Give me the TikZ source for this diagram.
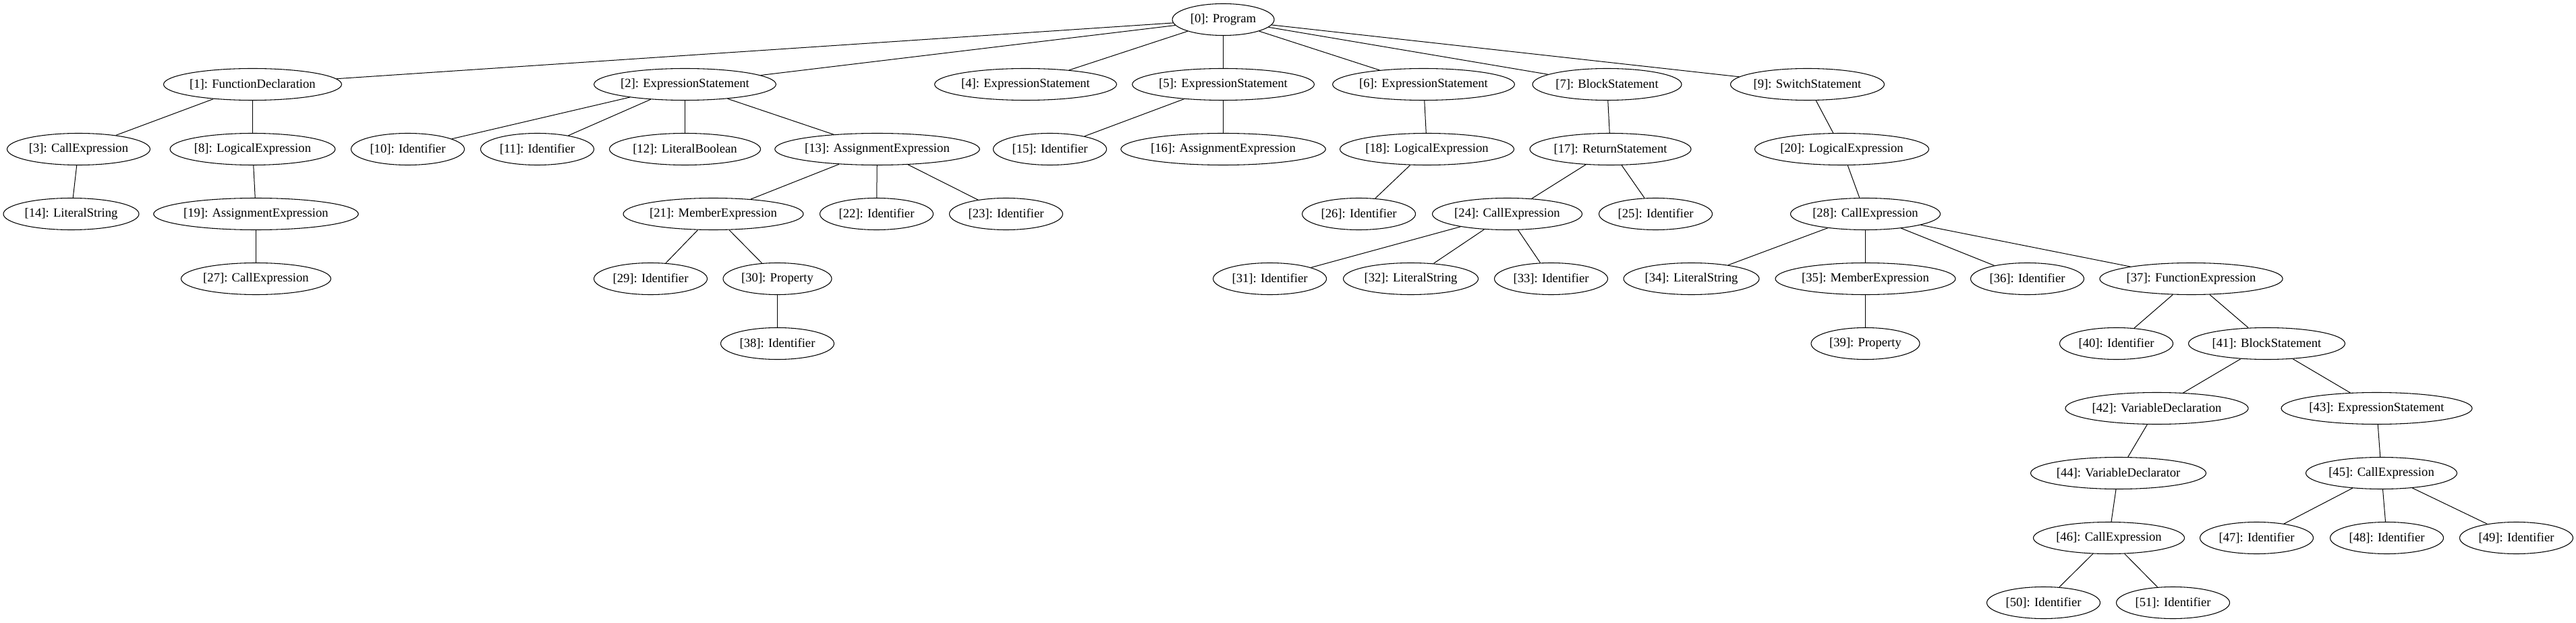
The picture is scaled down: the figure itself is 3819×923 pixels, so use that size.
\documentclass[tikz,border=0pt]{standalone}
\usepackage{fontspec}
\setmainfont{Liberation Serif}
\usetikzlibrary{shapes.geometric}
\tikzset{
  n/.style={draw, ellipse, line width=0.8pt, inner sep=0pt, minimum height=35.25pt, font=\fontsize{14}{16}\selectfont},
  ew/.style={minimum width=#1*0.75pt},
  edge/.style={line width=0.75pt}
}
\begin{document}
\begin{tikzpicture}[x=0.75pt,y=-0.75pt]
\fill[white] (0,0) rectangle (3819,923);
\useasboundingbox (0,0) rectangle (3819,923);
\begin{scope}[xshift=0.375pt]
% row 0
\node[n,ew=151] (n0) at (1813,29) {[0]: Program};
% row 1
\node[n,ew=262] (n1) at (374,125) {[1]: FunctionDeclaration};
\node[n,ew=269] (n2) at (1015,125) {[2]: ExpressionStatement};
\node[n,ew=267] (n4) at (1520,125) {[4]: ExpressionStatement};
\node[n,ew=269] (n5) at (1813,125) {[5]: ExpressionStatement};
\node[n,ew=268] (n6) at (2110,125) {[6]: ExpressionStatement};
\node[n,ew=221] (n7) at (2382,125) {[7]: BlockStatement};
\node[n,ew=228] (n9) at (2679,125) {[9]: SwitchStatement};
% row 2
\node[n,ew=212] (n3) at (116,221) {[3]: CallExpression};
\node[n,ew=244] (n8) at (374,221) {[8]: LogicalExpression};
\node[n,ew=168] (n10) at (604,221) {[10]: Identifier};
\node[n,ew=168] (n11) at (796,221) {[11]: Identifier};
\node[n,ew=224] (n12) at (1015,221) {[12]: LiteralBoolean};
\node[n,ew=297] (n13) at (1300,221) {[13]: AssignmentExpression};
\node[n,ew=168] (n15) at (1556,221) {[15]: Identifier};
\node[n,ew=297] (n16) at (1813,221) {[16]: AssignmentExpression};
\node[n,ew=257] (n18) at (2115,221) {[18]: LogicalExpression};
\node[n,ew=239] (n17) at (2387,221) {[17]: ReturnStatement};
\node[n,ew=256] (n20) at (2730,221) {[20]: LogicalExpression};
% row 3
\node[n,ew=201] (n14) at (105,317) {[14]: LiteralString};
\node[n,ew=297] (n19) at (379,317) {[19]: AssignmentExpression};
\node[n,ew=267] (n21) at (1057,317) {[21]: MemberExpression};
\node[n,ew=168] (n22) at (1299,317) {[22]: Identifier};
\node[n,ew=168] (n23) at (1491,317) {[23]: Identifier};
\node[n,ew=168] (n26) at (2014,317) {[26]: Identifier};
\node[n,ew=222] (n24) at (2234,317) {[24]: CallExpression};
\node[n,ew=168] (n25) at (2454,317) {[25]: Identifier};
\node[n,ew=222] (n28) at (2765,317) {[28]: CallExpression};
% row 4
\node[n,ew=222] (n27) at (379,413) {[27]: CallExpression};
\node[n,ew=168] (n29) at (964,413) {[29]: Identifier};
\node[n,ew=161] (n30) at (1152,413) {[30]: Property};
\node[n,ew=168] (n31) at (1882,413) {[31]: Identifier};
\node[n,ew=200] (n32) at (2091,413) {[32]: LiteralString};
\node[n,ew=168] (n33) at (2299,413) {[33]: Identifier};
\node[n,ew=201] (n34) at (2507,413) {[34]: LiteralString};
\node[n,ew=267] (n35) at (2765,413) {[35]: MemberExpression};
\node[n,ew=168] (n36) at (3005,413) {[36]: Identifier};
\node[n,ew=268] (n37) at (3248,413) {[37]: FunctionExpression};
% row 5
\node[n,ew=168] (n38) at (1152,509) {[38]: Identifier};
\node[n,ew=161] (n39) at (2765,509) {[39]: Property};
\node[n,ew=168] (n40) at (3137,509) {[40]: Identifier};
\node[n,ew=232] (n41) at (3360,509) {[41]: BlockStatement};
% row 6
\node[n,ew=271] (n42) at (3197,605) {[42]: VariableDeclaration};
\node[n,ew=278] (n43) at (3523,605) {[43]: ExpressionStatement};
% row 7
\node[n,ew=260] (n44) at (3140,701) {[44]: VariableDeclarator};
\node[n,ew=224] (n45) at (3530,701) {[45]: CallExpression};
% row 8
\node[n,ew=224] (n46) at (3126,797) {[46]: CallExpression};
\node[n,ew=168] (n47) at (3345,797) {[47]: Identifier};
\node[n,ew=168] (n48) at (3538,797) {[48]: Identifier};
\node[n,ew=168] (n49) at (3730,797) {[49]: Identifier};
% row 9
\node[n,ew=168] (n50) at (3029,893) {[50]: Identifier};
\node[n,ew=168] (n51) at (3221,893) {[51]: Identifier};
% edges
\foreach \a/\b in {0/1,0/2,0/4,0/5,0/6,0/7,0/9,
  1/3,1/8,3/14,8/19,19/27,
  2/10,2/11,2/12,2/13,13/21,13/22,13/23,21/29,21/30,30/38,
  5/15,5/16,6/18,18/26,7/17,17/24,17/25,24/31,24/32,24/33,
  9/20,20/28,28/34,28/35,28/36,28/37,35/39,37/40,37/41,
  41/42,41/43,42/44,44/46,46/50,46/51,43/45,45/47,45/48,45/49}
  \draw[edge] (n\a) -- (n\b);
\end{scope}
\end{tikzpicture}
\end{document}
